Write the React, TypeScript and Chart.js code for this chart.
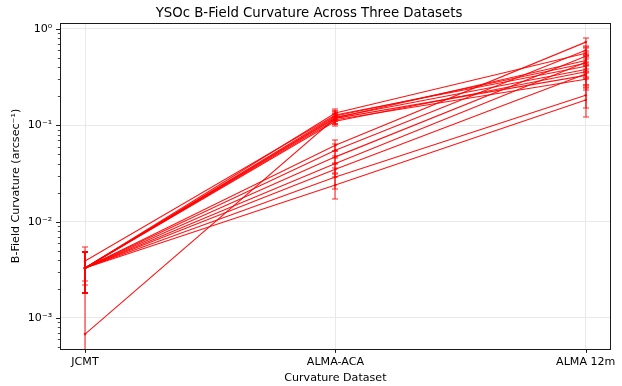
import React, { useEffect, useRef } from "react";
import { Chart, registerables } from "chart.js";

Chart.register(...registerables);

// Observing datasets along the x axis
const datasetNames = ["JCMT", "ALMA-ACA", "ALMA 12m"];

// Decade tick labels for the log axis (10^-3 ... 10^0)
const yTickExponents = [-3, -2, -1, 0];
const yTickLabels = ["10\u207B\u00B3", "10\u207B\u00B2", "10\u207B\u00B9", "10\u2070"];

// B-field curvature per source (arcsec^-1) and its uncertainty, one array per dataset
const jcmtCurv = [3.3e-3, 3.3e-3, 3.3e-3, 3.3e-3, 3.3e-3, 3.9e-3, 3.3e-3, 6.8e-4, 3.3e-3, 3.3e-3, 3.3e-3, 3.3e-3, 3.3e-3, 3.3e-3, 3.3e-3];
const jcmtErr = [1.5e-3, 1.5e-3, 1.5e-3, 1.5e-3, 1.5e-3, 1.5e-3, 1.5e-3, 1.5e-3, 1.5e-3, 1.5e-3, 1.5e-3, 1.5e-3, 1.5e-3, 1.5e-3, 1.5e-3];
const acaCurv = [0.134, 0.125, 0.121, 0.118, 0.114, 0.128, 0.110, 0.119, 0.062, 0.055, 0.047, 0.040, 0.035, 0.029, 0.024];
const acaErr = [0.012, 0.015, 0.010, 0.014, 0.011, 0.013, 0.012, 0.016, 0.008, 0.009, 0.007, 0.008, 0.006, 0.007, 0.007];
const alma12Curv = [0.56, 0.44, 0.38, 0.33, 0.30, 0.41, 0.36, 0.47, 0.73, 0.60, 0.52, 0.45, 0.34, 0.205, 0.183];
const alma12Err = [0.07, 0.09, 0.06, 0.08, 0.07, 0.10, 0.06, 0.09, 0.08, 0.06, 0.07, 0.09, 0.08, 0.055, 0.06];

const curvByDataset = [jcmtCurv, acaCurv, alma12Curv];
const errByDataset = [jcmtErr, acaErr, alma12Err];

const FONT = "'DejaVu Sans', sans-serif";
const LINE_COLOR = "rgba(255,0,0,0.92)";
const ERR_COLOR = "rgba(255,0,0,0.85)";
const Y_MIN = 4.76e-4;
const Y_MAX = 1.154;

// Vertical error bars with caps, drawn through the chart's own scales
const errorBarPlugin = {
  id: "errorBars",
  afterDatasetsDraw(chart: any) {
    const { ctx, chartArea, scales } = chart;
    const xs = scales.x;
    const ys = scales.y;
    ctx.save();
    ctx.beginPath();
    ctx.rect(chartArea.left, chartArea.top, chartArea.right - chartArea.left, chartArea.bottom - chartArea.top);
    ctx.clip();
    ctx.setLineDash([]);
    ctx.strokeStyle = ERR_COLOR;
    ctx.lineWidth = 1.1;
    const cap = 3;
    for (let k = 0; k < curvByDataset.length; k++) {
      const vals = curvByDataset[k];
      const errs = errByDataset[k];
      const px = Math.round(xs.getPixelForValue(k));
      for (let s = 0; s < vals.length; s++) {
        const v = vals[s];
        const e = errs[s];
        const hiPx = Math.round(ys.getPixelForValue(v + e));
        const hasLo = v - e > 0;
        const loPx = hasLo ? Math.round(ys.getPixelForValue(v - e)) : chartArea.bottom + 2;
        ctx.beginPath();
        ctx.moveTo(px, hiPx);
        ctx.lineTo(px, loPx);
        ctx.moveTo(px - cap, hiPx);
        ctx.lineTo(px + cap, hiPx);
        if (hasLo) {
          ctx.moveTo(px - cap, loPx);
          ctx.lineTo(px + cap, loPx);
        }
        ctx.stroke();
      }
    }
    ctx.restore();
  },
};

// Axes frame plus outward tick marks (major and minor)
const frameTicksPlugin = {
  id: "frameTicks",
  afterDraw(chart: any) {
    const { ctx, chartArea, scales } = chart;
    const { left, right, top, bottom } = chartArea;
    const xs = scales.x;
    const ys = scales.y;
    ctx.save();
    ctx.strokeStyle = "#000";
    // major ticks
    ctx.lineWidth = 0.9;
    ctx.beginPath();
    for (const p of yTickExponents) {
      const py = Math.round(ys.getPixelForValue(Math.pow(10, p))) + 0.5;
      ctx.moveTo(left, py);
      ctx.lineTo(left - 3.9, py);
    }
    for (let k = 0; k < datasetNames.length; k++) {
      const px = Math.round(xs.getPixelForValue(k)) + 0.5;
      ctx.moveTo(px, bottom);
      ctx.lineTo(px, bottom + 3.9);
    }
    ctx.stroke();
    // minor ticks on y
    ctx.lineWidth = 0.7;
    ctx.beginPath();
    for (let p = -4; p <= 0; p++) {
      for (let m = 2; m <= 9; m++) {
        const v = m * Math.pow(10, p);
        if (v < Y_MIN || v > Y_MAX) continue;
        const py = Math.round(ys.getPixelForValue(v)) + 0.5;
        ctx.moveTo(left, py);
        ctx.lineTo(left - 2.2, py);
      }
    }
    ctx.stroke();
    // frame
    ctx.lineWidth = 1;
    ctx.strokeStyle = "#1a1a1a";
    ctx.strokeRect(Math.round(left) + 0.5, Math.round(top) + 0.5, Math.round(right - left) - 1, Math.round(bottom - top));
    ctx.restore();
  },
};

export default function App() {
  const canvasRef = useRef<HTMLCanvasElement>(null);

  useEffect(() => {
    const datasets = jcmtCurv.map((_, s) => ({
      label: `source ${s + 1}`,
      data: curvByDataset.map((vals, k) => ({ x: k, y: vals[s] })),
      borderColor: LINE_COLOR,
      backgroundColor: LINE_COLOR,
      borderWidth: 1.1,
      pointRadius: 1.3,
      pointBorderWidth: 0,
      pointHoverRadius: 1.3,
      tension: 0,
      fill: false,
    }));

    const chart = new Chart(canvasRef.current as HTMLCanvasElement, {
      type: "line",
      data: { datasets },
      plugins: [errorBarPlugin, frameTicksPlugin],
      options: {
        responsive: false,
        animation: false,
        devicePixelRatio: 1,
        layout: { padding: { left: 0, right: 4, top: 0, bottom: 0 } },
        plugins: {
          legend: { display: false },
          tooltip: { enabled: false },
          title: {
            display: true,
            text: "YSOc B-Field Curvature Across Three Datasets",
            color: "#000",
            font: { family: FONT, size: 13.3, weight: "normal" },
            padding: { top: 5.4, bottom: 1.6 },
          },
        },
        scales: {
          x: {
            type: "linear",
            min: -0.1,
            max: 2.1,
            afterBuildTicks: (scale: any) => {
              scale.ticks = datasetNames.map((_, i) => ({ value: i }));
            },
            afterFit: (scale: any) => {
              scale.height = 37;
            },
            ticks: {
              color: "#000",
              font: { family: FONT, size: 11.1 },
              padding: 6.4,
              maxRotation: 0,
              autoSkip: false,
              callback: (_v: any, i: number) => datasetNames[i] ?? "",
            },
            grid: { color: "#e6e6e6", lineWidth: 0.9, drawTicks: false },
            border: { display: false },
            title: {
              display: true,
              text: "Curvature Dataset",
              color: "#000",
              font: { family: FONT, size: 11.1 },
              padding: { top: 0, bottom: 1.5 },
            },
          },
          y: {
            type: "logarithmic",
            min: Y_MIN,
            max: Y_MAX,
            afterBuildTicks: (scale: any) => {
              scale.ticks = yTickExponents.map((p) => ({ value: Math.pow(10, p) }));
            },
            afterFit: (scale: any) => {
              scale.width = 60;
            },
            ticks: {
              color: "#000",
              font: { family: FONT, size: 11.1 },
              padding: 7.8,
              autoSkip: false,
              callback: (v: any) => {
                const p = Math.round(Math.log10(Number(v)));
                const i = yTickExponents.indexOf(p);
                return i >= 0 ? yTickLabels[i] : "";
              },
            },
            grid: { color: "#e6e6e6", lineWidth: 0.9, drawTicks: false },
            border: { display: false },
            title: {
              display: true,
              text: "B-Field Curvature (arcsec\u207B\u00B9)",
              color: "#000",
              font: { family: FONT, size: 11.1 },
              padding: { top: 9.3, bottom: 0 },
            },
          },
        },
      },
    } as any);

    return () => chart.destroy();
  }, []);

  return (
    <div style={{ position: "fixed", left: 0, top: 0, width: 622, height: 386, background: "#fff" }}>
      <canvas ref={canvasRef} width={622} height={386} style={{ display: "block" }} />
    </div>
  );
}
